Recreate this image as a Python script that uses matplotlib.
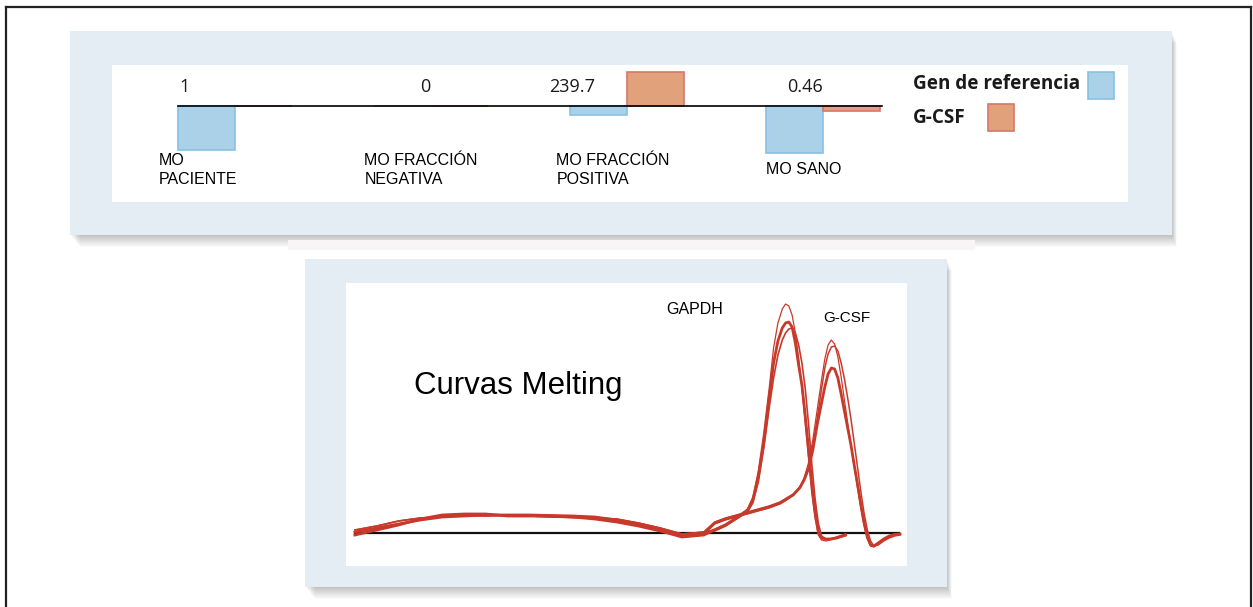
import matplotlib.pyplot as plt
from matplotlib.patches import Rectangle
from matplotlib.lines import Line2D

W, H = 1253, 607

# --- datos: expresion relativa (grafico de barras) ---
categorias = ["MO\nPACIENTE", "MO FRACCIÓN\nNEGATIVA", "MO FRACCIÓN\nPOSITIVA", "MO SANO"]
valores_texto = ["1", "0", "239.7", "0.46"]
gen_referencia = [-4.4, 0.0, -0.9, -4.7]
g_csf = [0.0, 0.0, 3.4, -0.5]

# --- datos: curvas melting (temperatura en C, -dF/dT) ---
temp_base = [70, 71, 72, 73, 74, 75, 76, 77, 78, 79, 80, 81, 82, 83, 84, 85, 86]
base_a = [0.1, 0.5, 0.9, 1.3, 1.6, 1.7, 1.8, 1.8, 1.8, 1.75, 1.7, 1.6, 1.3, 0.9, 0.4, -0.3, 0.0]
base_b = [-0.2, 0.3, 0.8, 1.4, 1.8, 1.9, 1.9, 1.7, 1.7, 1.7, 1.6, 1.4, 1.1, 0.7, 0.2, -0.4, -0.2]
base_c = [0.3, 0.7, 1.2, 1.5, 1.6, 1.8, 1.7, 1.8, 1.7, 1.6, 1.55, 1.5, 1.4, 1.0, 0.5, -0.1, 0.1]

temp_gapdh = [86.5, 87, 87.5, 88, 88.25, 88.5, 88.75, 89, 89.2, 89.4, 89.6, 89.75, 89.9,
              90.05, 90.2, 90.35, 90.5, 90.65, 90.8, 90.95, 91.1, 91.25, 91.4, 91.6, 91.8,
              92.1, 92.5]
gapdh_1 = [0.4, 0.9, 1.6, 2.4, 3.6, 6.2, 10.0, 14.5, 18.5, 21.0, 22.4, 22.9, 22.7,
           21.8, 20.0, 17.5, 14.5, 11.0, 7.5, 4.0, 1.5, -0.2, -0.7, -0.8, -0.7, -0.5, -0.3]
gapdh_2 = [0.3, 0.8, 1.5, 2.2, 3.3, 5.6, 9.0, 13.5, 17.0, 19.2, 20.5, 21.0, 21.1,
           20.6, 19.0, 16.8, 14.8, 11.8, 8.5, 5.0, 2.2, 0.2, -0.5, -0.6, -0.6, -0.5, -0.2]
gapdh_3 = [0.2, 0.7, 1.4, 2.1, 3.0, 5.1, 8.5, 12.5, 15.5, 17.8, 19.3, 20.0, 20.4,
           20.5, 20.0, 18.8, 17.0, 14.5, 11.0, 7.0, 3.5, 1.0, -0.3, -0.6, -0.6, -0.4, -0.1]

temp_gcsf = [86.5, 87, 87.5, 88, 88.5, 89, 89.5, 89.8, 90.1, 90.4, 90.6, 90.8, 91.0, 91.2,
             91.4, 91.55, 91.7, 91.85, 92.0, 92.15, 92.3, 92.45, 92.6, 92.75, 92.9, 93.05,
             93.2, 93.35, 93.5, 93.65, 93.8, 94.0, 94.25, 94.5, 94.75, 95]
gcsf_1 = [0.9, 1.3, 1.6, 1.9, 2.2, 2.5, 2.9, 3.3, 3.8, 4.6, 5.5, 7.0, 9.3, 12.3,
          15.3, 17.4, 18.8, 19.3, 18.9, 17.6, 15.6, 13.3, 11.0, 8.8, 6.6, 4.5,
          2.5, 0.8, -0.6, -1.3, -1.4, -1.1, -0.7, -0.4, -0.2, -0.1]
gcsf_2 = [1.0, 1.4, 1.7, 2.0, 2.3, 2.6, 3.0, 3.4, 3.8, 4.5, 5.3, 6.4, 8.3, 10.8,
          13.0, 14.6, 15.9, 16.5, 16.4, 15.5, 13.9, 12.2, 10.5, 8.8, 6.8, 4.9,
          2.9, 1.0, -0.4, -1.2, -1.3, -1.0, -0.6, -0.3, -0.15, -0.1]
gcsf_3 = [1.1, 1.5, 1.8, 2.1, 2.4, 2.7, 3.1, 3.5, 3.9, 4.6, 5.3, 6.5, 8.6, 11.4,
          14.4, 16.5, 17.9, 18.6, 18.7, 18.2, 17.0, 15.4, 13.5, 11.4, 9.0, 6.6,
          4.2, 2.0, 0.3, -0.8, -1.3, -1.2, -0.8, -0.5, -0.3, -0.2]

AZUL, AZUL_BORDE = "#abd1e8", "#86c1e3"
NARANJA, NARANJA_BORDE = "#e0a17b", "#d8766a"
ROJO = "#c73a2b"
MARCO = "#e4ecf4"


def caja(x0, y0, x1, y1):
    # pixeles -> fraccion de figura
    return [x0 / W, 1 - y1 / H, (x1 - x0) / W, (y1 - y0) / H]


def marco_con_sombra(fig, x0, y0, x1, y1):
    # sombra difusa abajo a la derecha
    for k in range(1, 13):
        fig.patches.append(Rectangle(((x0 + k * 0.8) / W, 1 - (y1 + k * 1.0) / H),
                                     (x1 - x0 - k * 0.4) / W, (y1 - y0) / H,
                                     transform=fig.transFigure, color="black",
                                     alpha=0.02, lw=0, zorder=0))
    fig.patches.append(Rectangle((x0 / W, 1 - y1 / H), (x1 - x0) / W, (y1 - y0) / H,
                                 transform=fig.transFigure, color=MARCO, lw=0, zorder=0.5))


def limpiar(ax):
    ax.set_xticks([])
    ax.set_yticks([])
    for s in ax.spines.values():
        s.set_visible(False)
    ax.set_zorder(3)


fig = plt.figure(figsize=(W / 100, H / 100), dpi=100)
fig.patch.set_facecolor("white")

# borde exterior (sin linea inferior)
for xs, ys in [([6, 6], [607, 7]), ([6, 1251], [7, 7]), ([1251, 1251], [7, 607])]:
    fig.lines.append(Line2D([x / W for x in xs], [1 - y / H for y in ys],
                            transform=fig.transFigure, color="#222222", lw=1.6))

marco_con_sombra(fig, 70, 31, 1172, 235)
fig.patches.append(Rectangle((288 / W, 1 - 250 / H), 687 / W, 10 / H,
                             transform=fig.transFigure, color="#f7f5f5", lw=0, zorder=0))
marco_con_sombra(fig, 305, 259, 947, 587)

# ---------------- grafico de barras ----------------
ax1 = fig.add_axes(caja(112, 65, 1128, 202))
ax1.set_facecolor("white")
w = 0.29
pos = list(range(len(categorias)))
ax1.bar([p - w / 2 for p in pos], gen_referencia, width=w, color=AZUL,
        edgecolor=AZUL_BORDE, linewidth=1.2)
ax1.bar([p + w / 2 for p in pos], g_csf, width=w, color=NARANJA,
        edgecolor=NARANJA_BORDE, linewidth=1.2)
ax1.plot([-w, 3 + w + 0.01], [0, 0], color="black", lw=1.2)

off_valor = [-0.26, -0.03, -0.28, -0.09]
off_cat = [-0.39, -0.34, -0.36, -0.29]
for p, t, o in zip(pos, valores_texto, off_valor):
    ax1.text(p + o, 1.9, t, ha="center", va="center", fontsize=13, family="Open Sans",
             color="#1a1a1a")
for p, c, o in zip(pos, categorias, off_cat):
    ax1.text(p + o, -6.4, c, ha="left", va="center", fontsize=11.5,
             family="Liberation Sans", linespacing=1.3)

# leyenda
ax1.text(3.46, 2.2, "Gen de referencia", ha="left", va="center", fontsize=13.6,
         family="Open Sans", fontweight="bold", color="#1a1a1a")
ax1.text(3.46, -1.2, "G-CSF", ha="left", va="center", fontsize=13.6,
         family="Open Sans", fontweight="bold", color="#1a1a1a")
ax1.add_patch(Rectangle((4.35, 0.7), 0.135, 2.7, facecolor=AZUL,
                        edgecolor=AZUL_BORDE, lw=1.2))
ax1.add_patch(Rectangle((3.84, -2.5), 0.135, 2.7, facecolor=NARANJA,
                        edgecolor=NARANJA_BORDE, lw=1.2))

ax1.set_xlim(-0.628, 4.556)
ax1.set_ylim(-9.6, 4.1)
limpiar(ax1)

# ---------------- curvas melting ----------------
ax2 = fig.add_axes(caja(346, 283, 907, 566))
ax2.set_facecolor("white")
ax2.plot([70, 94.95], [0, 0], color="#111111", lw=1.6, zorder=1)

curvas = [
    (base_a, temp_gapdh, gapdh_1, 0.9),
    (base_b, temp_gapdh, gapdh_2, 2.0),
    (base_c, temp_gapdh, gapdh_3, 1.2),
    (base_b, temp_gcsf, gcsf_1, 0.9),
    (base_a, temp_gcsf, gcsf_2, 2.0),
    (base_c, temp_gcsf, gcsf_3, 1.1),
]
for base, t, y, lw in curvas:
    ax2.plot(temp_base + t, base + y, color=ROJO, lw=lw, zorder=2,
             solid_joinstyle="round")

ax2.text(72.7, 14.7, "Curvas Melting", ha="left", va="center", fontsize=22.5,
         family="Liberation Sans")
ax2.text(84.3, 22.4, "GAPDH", ha="left", va="center", fontsize=11.5,
         family="Liberation Sans")
ax2.text(91.47, 21.5, "G-CSF", ha="left", va="center", fontsize=11,
         family="Liberation Sans")

ax2.set_xlim(69.59, 95.32)
ax2.set_ylim(-3.3, 25.0)
limpiar(ax2)

fig.savefig("out.png", dpi=100)
